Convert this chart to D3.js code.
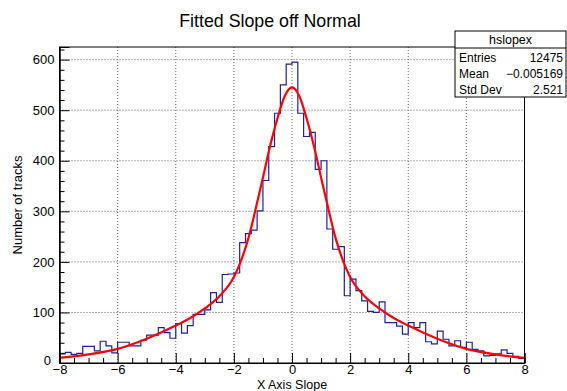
<!DOCTYPE html>
<html>
<head>
<meta charset="utf-8">
<script src="https://cdn.jsdelivr.net/npm/d3@7"></script>
<style>
  html, body { margin: 0; padding: 0; background: #fff; }
  svg { display: block; }
  text { font-family: "Liberation Sans", Arial, Helvetica, sans-serif; }
</style>
</head>
<body>
<svg id="chart" width="567" height="391"></svg>
<script>
// ---- data ----
const xMin = -8, xMax = 8, binWidth = 0.2;
const binCounts = [
  18, 21, 17, 19, 33, 33, 24, 43, 34, 20,
  41, 41, 34, 34, 45, 55, 55, 70, 60, 49,
  78, 59, 74, 96, 96, 105, 139, 120, 175, 176,
  178, 238, 256, 263, 301, 361, 428, 494, 550, 591,
  595, 494, 448, 456, 383, 400, 265, 225, 230, 133,
  166, 143, 123, 102, 100, 121, 80, 80, 73, 57,
  80, 70, 80, 42, 38, 63, 47, 34, 44, 31,
  41, 27, 24, 14, 15, 18, 26, 19, 13, 9
];
const fitX = [-8,-7,-6,-5,-4,-3.5,-3,-2.5,-2,-1.75,-1.5,-1.25,-1,-0.75,-0.5,-0.25,0,0.25,0.5,0.75,1,1.25,1.5,1.75,2,2.5,3,3.5,4,5,6,7,8];
const fitY = [10,17,28,48,74,89,108,132,170,203,247,305,367,430,484,528,545,528,484,430,367,305,247,203,170,132,108,89,74,48,28,17,10];
const xTicks = [-8,-6,-4,-2,0,2,4,6,8];
const yTicks = [0,100,200,300,400,500,600];
const title = "Fitted Slope off Normal";
const xTitle = "X Axis Slope";
const yTitle = "Number of tracks";
const statsName = "hslopex";
const statsLabels = ["Entries", "Mean", "Std Dev"];
const statsValues = ["12475", "\u22120.005169", "2.521"];

// ---- layout ----
const L = 59.5, R = 524.5, T = 47, B = 363;
const svg = d3.select("#chart");
const x = d3.scaleLinear().domain([xMin, xMax]).range([L, R]);
const y = d3.scaleLinear().domain([0, 625]).range([B, T]);
const fmt = d => (d < 0 ? "\u2212" + Math.abs(d) : String(d));

// grid
const grid = svg.append("g").attr("stroke", "#666").attr("stroke-width", 1).attr("stroke-dasharray", "1,2");
xTicks.filter(d => d > xMin && d < xMax).forEach(d => {
  grid.append("line").attr("x1", x(d)).attr("x2", x(d)).attr("y1", B).attr("y2", T);
});
yTicks.filter(d => d > 0).forEach(d => {
  grid.append("line").attr("x1", L).attr("x2", R).attr("y1", y(d)).attr("y2", y(d));
});

// histogram
const pts = [[xMin, 0]];
binCounts.forEach((v, i) => {
  const x0 = xMin + i * binWidth, x1 = x0 + binWidth;
  pts.push([x0, v], [x1, v]);
});
pts.push([xMax, 0]);
svg.append("path")
  .attr("d", d3.line().x(d => x(d[0])).y(d => y(d[1]))(pts))
  .attr("fill", "none").attr("stroke", "#1f1fa0").attr("stroke-width", 1.2);

// fit
svg.append("path")
  .attr("d", d3.line().x((d, i) => x(fitX[i])).y(d => y(d)).curve(d3.curveMonotoneX)(fitY))
  .attr("fill", "none").attr("stroke", "#ff0000").attr("stroke-width", 2.2);

// frame
svg.append("rect").attr("x", L).attr("y", T).attr("width", R - L).attr("height", B - T)
  .attr("fill", "none").attr("stroke", "#000").attr("stroke-width", 1);

// axes
const xMinor = d3.range(xMin, xMax + 0.001, 0.5).filter(d => !xTicks.includes(d));
const yMinor = d3.range(0, 621, 20).filter(d => d % 100 !== 0);

const gx = svg.append("g").attr("transform", `translate(0,${B})`);
gx.call(d3.axisBottom(x).tickValues(xTicks).tickSize(-10).tickPadding(2).tickFormat(fmt));
gx.append("g").call(d3.axisBottom(x).tickValues(xMinor).tickSize(-5).tickFormat(""));
gx.selectAll(".domain").attr("stroke", "#000");
gx.selectAll("text").attr("font-size", 13).attr("fill", "#000")
  .attr("font-family", "Liberation Sans, Arial, sans-serif");

const gy = svg.append("g").attr("transform", `translate(${L},0)`);
gy.call(d3.axisLeft(y).tickValues(yTicks).tickSize(-10).tickPadding(5).tickFormat(fmt));
gy.append("g").call(d3.axisLeft(y).tickValues(yMinor).tickSize(-5).tickFormat(""));
gy.selectAll("text").attr("font-size", 13).attr("fill", "#000")
  .attr("font-family", "Liberation Sans, Arial, sans-serif");
gy.selectAll(".tick text").filter(d => d === 0).attr("dy", "0.12em").attr("x", -8.5);

// titles
svg.append("text").attr("x", 270).attr("y", 27).attr("text-anchor", "middle")
  .attr("font-size", 17.8).text(title);
svg.append("text").attr("x", (L + R) / 2).attr("y", 389).attr("text-anchor", "middle")
  .attr("font-size", 12.5).text(xTitle);
svg.append("text").attr("transform", `translate(22,${(T + B) / 2}) rotate(-90)`)
  .attr("text-anchor", "middle").attr("font-size", 13).text(yTitle);

// stats box
const sb = svg.append("g");
const bx = 455, by = 31, bw = 111, bh = 66;
sb.append("rect").attr("x", bx).attr("y", by).attr("width", bw).attr("height", bh)
  .attr("fill", "#fff").attr("stroke", "#000").attr("stroke-width", 1);
sb.append("line").attr("x1", bx).attr("x2", bx + bw).attr("y1", 48).attr("y2", 48).attr("stroke", "#000");
sb.append("text").attr("x", bx + bw / 2).attr("y", 44).attr("text-anchor", "middle")
  .attr("font-size", 12.5).text(statsName);
statsLabels.forEach((lab, i) => {
  const yy = 62 + i * 16;
  sb.append("text").attr("x", bx + 4).attr("y", yy).attr("font-size", 12).text(lab);
  sb.append("text").attr("x", bx + bw - 3).attr("y", yy).attr("text-anchor", "end")
    .attr("font-size", 12).text(statsValues[i]);
});
</script>
</body>
</html>
